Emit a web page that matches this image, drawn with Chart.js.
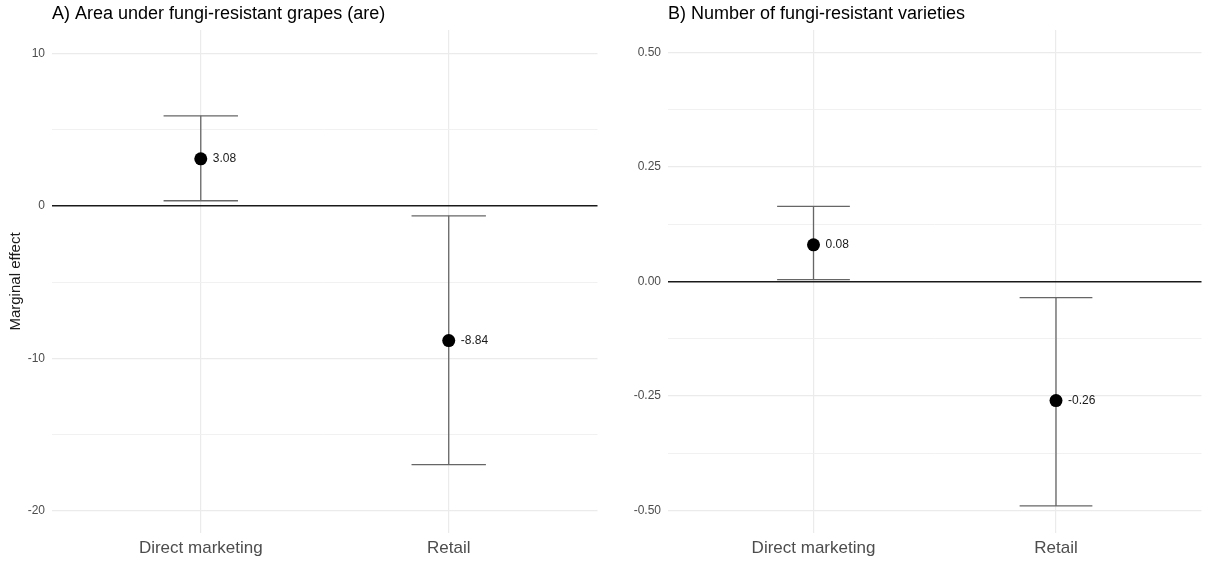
<!DOCTYPE html>
<html>
<head>
<meta charset="utf-8">
<script src="https://cdn.jsdelivr.net/npm/chart.js@4.4.1/dist/chart.umd.min.js"></script>
<style>
  html, body { margin: 0; padding: 0; background: #ffffff; }
  #wrap { position: relative; width: 1208px; height: 561px; }
  canvas { position: absolute; top: 0; }
  #areaChart { left: 0; }
  #varietyChart { left: 604px; }
</style>
</head>
<body>
<div id="wrap">
  <canvas id="areaChart" width="604" height="561"></canvas>
  <canvas id="varietyChart" width="604" height="561"></canvas>
</div>
<script>
// Marginal effects with confidence bounds per marketing channel
const categories = ['Direct marketing', 'Retail'];

const areaEffect = [3.08, -8.84];
const areaLower = [0.33, -16.97];
const areaUpper = [5.9, -0.66];

const varietyEffect = [0.08, -0.26];
const varietyLower = [0.004, -0.49];
const varietyUpper = [0.164, -0.035];

// Labelled tick values (other grid lines are minor)
const areaTickLabels = [-20, -10, 0, 10];
const varietyTickLabels = [-0.5, -0.25, 0, 0.25, 0.5];

const FONT = "'Liberation Sans', Arial, 'DejaVu Sans', sans-serif";
Chart.defaults.font.family = FONT;

const CAP = 0.15;          // half-width of the error-bar caps, in category units
const BAR_COLOR = '#666666';

function segment(points) {
  return {
    data: points,
    showLine: true,
    borderColor: BAR_COLOR,
    borderWidth: 1.3,
    pointRadius: 0,
    pointHoverRadius: 0,
    fill: false
  };
}

function buildDatasets(effect, lower, upper) {
  const sets = [{
    data: effect.map((v, i) => ({ x: i, y: v })),
    pointRadius: 6.5,
    pointHoverRadius: 6.5,
    backgroundColor: '#000000',
    borderWidth: 0,
    showLine: false
  }];
  effect.forEach((_, i) => {
    sets.push(segment([{ x: i, y: lower[i] }, { x: i, y: upper[i] }]));
    sets.push(segment([{ x: i - CAP, y: upper[i] }, { x: i + CAP, y: upper[i] }]));
    sets.push(segment([{ x: i - CAP, y: lower[i] }, { x: i + CAP, y: lower[i] }]));
  });
  return sets;
}

// Panel title, left-aligned with the plotting area
const panelTitle = {
  id: 'panelTitle',
  afterDraw(chart, args, opts) {
    const ctx = chart.ctx;
    ctx.save();
    ctx.font = '18px ' + FONT;
    ctx.fillStyle = '#000000';
    ctx.textAlign = 'left';
    ctx.textBaseline = 'alphabetic';
    ctx.fillText(opts.text, chart.chartArea.left, 18.5);
    ctx.restore();
  }
};

// Value labels to the right of each point estimate
const valueLabels = {
  id: 'valueLabels',
  afterDatasetsDraw(chart) {
    const ctx = chart.ctx;
    const meta = chart.getDatasetMeta(0);
    const values = chart.data.datasets[0].data;
    ctx.save();
    ctx.font = '12px ' + FONT;
    ctx.fillStyle = '#1a1a1a';
    ctx.textAlign = 'left';
    ctx.textBaseline = 'middle';
    meta.data.forEach((pt, i) => {
      ctx.fillText(values[i].y.toFixed(2), pt.x + 12, pt.y);
    });
    ctx.restore();
  }
};

function makeChart(id, opts) {
  const isZero = v => Math.abs(v) < 1e-9;
  const isMajor = v => opts.tickLabels.some(t => Math.abs(t - v) < 1e-9);
  return new Chart(document.getElementById(id), {
    type: 'scatter',
    data: { datasets: buildDatasets(opts.effect, opts.lower, opts.upper) },
    options: {
      responsive: false,
      animation: false,
      events: [],
      layout: { padding: { top: 30, right: opts.padRight, bottom: 0, left: 0 } },
      plugins: {
        legend: { display: false },
        tooltip: { enabled: false },
        panelTitle: { text: opts.title }
      },
      scales: {
        x: {
          type: 'linear',
          min: -0.6,
          max: 1.6,
          border: { display: false },
          grid: { color: '#ebebeb', lineWidth: 1.2, drawTicks: false },
          ticks: {
            stepSize: 1,
            includeBounds: false,
            autoSkip: false,
            maxRotation: 0,
            padding: 5,
            color: '#4d4d4d',
            font: { size: 17 },
            callback: v => categories[v] !== undefined ? categories[v] : ''
          },
          afterFit: s => { s.height = 28; }
        },
        y: {
          type: 'linear',
          min: opts.min,
          max: opts.max,
          border: { display: false },
          grid: {
            drawTicks: false,
            color: c => isZero(c.tick.value) ? '#1a1a1a' : (isMajor(c.tick.value) ? '#ebebeb' : '#efefef'),
            lineWidth: c => isZero(c.tick.value) ? 1.4 : (isMajor(c.tick.value) ? 1.2 : 0.9)
          },
          ticks: {
            stepSize: opts.step,
            includeBounds: false,
            autoSkip: false,
            padding: 7,
            color: '#4d4d4d',
            font: { size: 12 },
            callback: v => isMajor(v) ? opts.format(v) : ''
          },
          title: {
            display: !!opts.yTitle,
            text: opts.yTitle || '',
            color: '#1a1a1a',
            font: { size: 15 },
            padding: { top: 7, bottom: 0 }
          },
          afterFit: s => { s.width = opts.axisWidth; }
        }
      }
    },
    plugins: [panelTitle, valueLabels]
  });
}

makeChart('areaChart', {
  title: 'A) Area under fungi-resistant grapes (are)',
  yTitle: 'Marginal effect',
  effect: areaEffect, lower: areaLower, upper: areaUpper,
  tickLabels: areaTickLabels,
  min: -21.46, max: 11.53, step: 5,
  format: v => String(v),
  axisWidth: 52, padRight: 6
});

makeChart('varietyChart', {
  title: 'B) Number of fungi-resistant varieties',
  yTitle: null,
  effect: varietyEffect, lower: varietyLower, upper: varietyUpper,
  tickLabels: varietyTickLabels,
  min: -0.549, max: 0.549, step: 0.125,
  format: v => v.toFixed(2),
  axisWidth: 64, padRight: 5
});
</script>
</body>
</html>
